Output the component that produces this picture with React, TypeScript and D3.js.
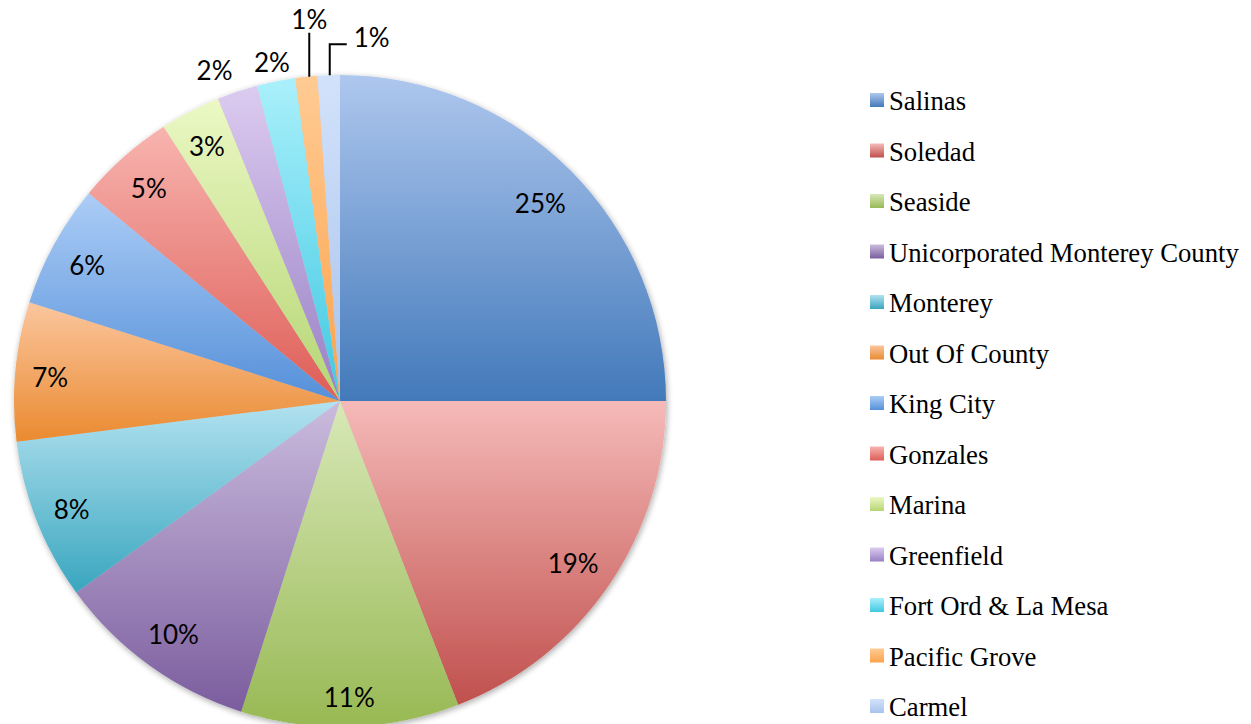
import React from "react";
import * as d3 from "d3";

const categories = [
  "Salinas",
  "Soledad",
  "Seaside",
  "Unicorporated Monterey County",
  "Monterey",
  "Out Of County",
  "King City",
  "Gonzales",
  "Marina",
  "Greenfield",
  "Fort Ord & La Mesa",
  "Pacific Grove",
  "Carmel",
];
const values = [25.0, 19.1, 10.8, 10.1, 8.0, 6.9, 6.1, 4.9, 3.0, 2.0, 1.9, 1.1, 1.1];
const percentLabels = ["25%", "19%", "11%", "10%", "8%", "7%", "6%", "5%", "3%", "2%", "2%", "1%", "1%"];
const topColors = ["#aec7ee", "#f5bab8", "#d8e8b8", "#cbbcde", "#b3e2f0", "#fbc69e", "#accdf6", "#f8b4af", "#ebf8c4", "#dccbf0", "#aaf0fb", "#ffcb94", "#d2e2fb"];
const bottomColors = ["#4279ba", "#c0504d", "#98b954", "#7b5d9e", "#39a6bf", "#ea8a30", "#5590d9", "#de5d57", "#b5d574", "#9880c4", "#40c8e2", "#fca24a", "#a9c3eb"];

const W = 1251;
const H = 724;
const cx = 340;
const cy = 401;
const R = 326;

export default function App() {
  const pie = d3.pie<number>().value((d) => d).sort(null);
  const arcs = pie(values);
  const arcGen = d3.arc<d3.PieArcDatum<number>>().innerRadius(0).outerRadius(R);

  const legendX = 870;
  const legendY0 = 110;
  const legendStep = 50.5;

  const labelFont = "Lato, 'Open Sans', sans-serif";
  const labelSize = 26;

  const labels = arcs.map((a, i) => {
    const mid = (a.startAngle + a.endAngle) / 2;
    const ux = Math.sin(mid);
    const uy = -Math.cos(mid);
    const text = percentLabels[i];
    const w = text.length * 13 + 4;
    const h = 24;
    if (values[i] >= 2.5) {
      const ext = Math.abs(ux) * (w / 2) + Math.abs(uy) * (h / 2);
      const rr = R - 19 - ext;
      return { kind: "in", x: cx + ux * rr, y: cy + uy * rr + 2, text };
    }
    const ax = cx + ux * R;
    const ay = cy + uy * R;
    if (i === categories.length - 2) {
      return { kind: "leaderUp", x: ax + 3, y: ay - 58, text, path: `M${ax + 3},${ay} L${ax + 3},${ay - 44}` };
    }
    if (i === categories.length - 1) {
      return {
        kind: "leaderRight",
        x: ax + 43,
        y: ay - 38,
        text,
        path: `M${ax + 1},${ay} L${ax + 1},${ay - 31} L${ax + 18},${ay - 31}`,
      };
    }
    const shift = i === categories.length - 4 ? 2.4 * Math.PI / 180 : 0;
    const m2 = mid - shift;
    const rr = R + 28 - (i === categories.length - 3 ? 8 : 0);
    return { kind: "out", x: cx + Math.sin(m2) * rr, y: cy - Math.cos(m2) * rr, text };
  });

  return (
    <svg
      width={W}
      height={H}
      style={{ position: "absolute", left: 0, top: 0, background: "#fff" }}
    >
      <defs>
        {categories.map((c, i) => (
          <linearGradient key={c} id={`g${i}`} x1="0" y1="0" x2="0" y2="1">
            <stop offset="0%" stopColor={topColors[i]} />
            <stop offset="100%" stopColor={bottomColors[i]} />
          </linearGradient>
        ))}
        <filter id="shadow" x="-10%" y="-10%" width="120%" height="120%">
          <feGaussianBlur in="SourceAlpha" stdDeviation="3" />
          <feOffset dx="1" dy="2" result="b" />
          <feComponentTransfer>
            <feFuncA type="linear" slope="0.35" />
          </feComponentTransfer>
          <feMerge>
            <feMergeNode />
            <feMergeNode in="SourceGraphic" />
          </feMerge>
        </filter>
      </defs>
      <g transform={`translate(${cx},${cy})`} filter="url(#shadow)">
        {arcs.map((a, i) => (
          <path key={i} d={arcGen(a) || ""} fill={`url(#g${i})`} />
        ))}
      </g>
      {labels.map((l, i) => (
        <g key={i}>
          {l.path && <path d={l.path} fill="none" stroke="#000" strokeWidth={2} />}
          <text
            x={l.x}
            y={l.y}
            textAnchor="middle"
            dominantBaseline="central"
            fontFamily={labelFont}
            fontSize={labelSize}
            fill="#000"
          >
            {l.text}
          </text>
        </g>
      ))}
      {categories.map((c, i) => {
        const by = legendY0 + i * legendStep;
        return (
          <g key={c}>
            <rect x={legendX} y={by - 17} width={14} height={14} fill={`url(#g${i})`} />
            <text
              x={legendX + 19}
              y={by}
              fontFamily="'Liberation Serif', 'Times New Roman', serif"
              fontSize={26.7}
              fill="#000"
            >
              {c}
            </text>
          </g>
        );
      })}
    </svg>
  );
}
